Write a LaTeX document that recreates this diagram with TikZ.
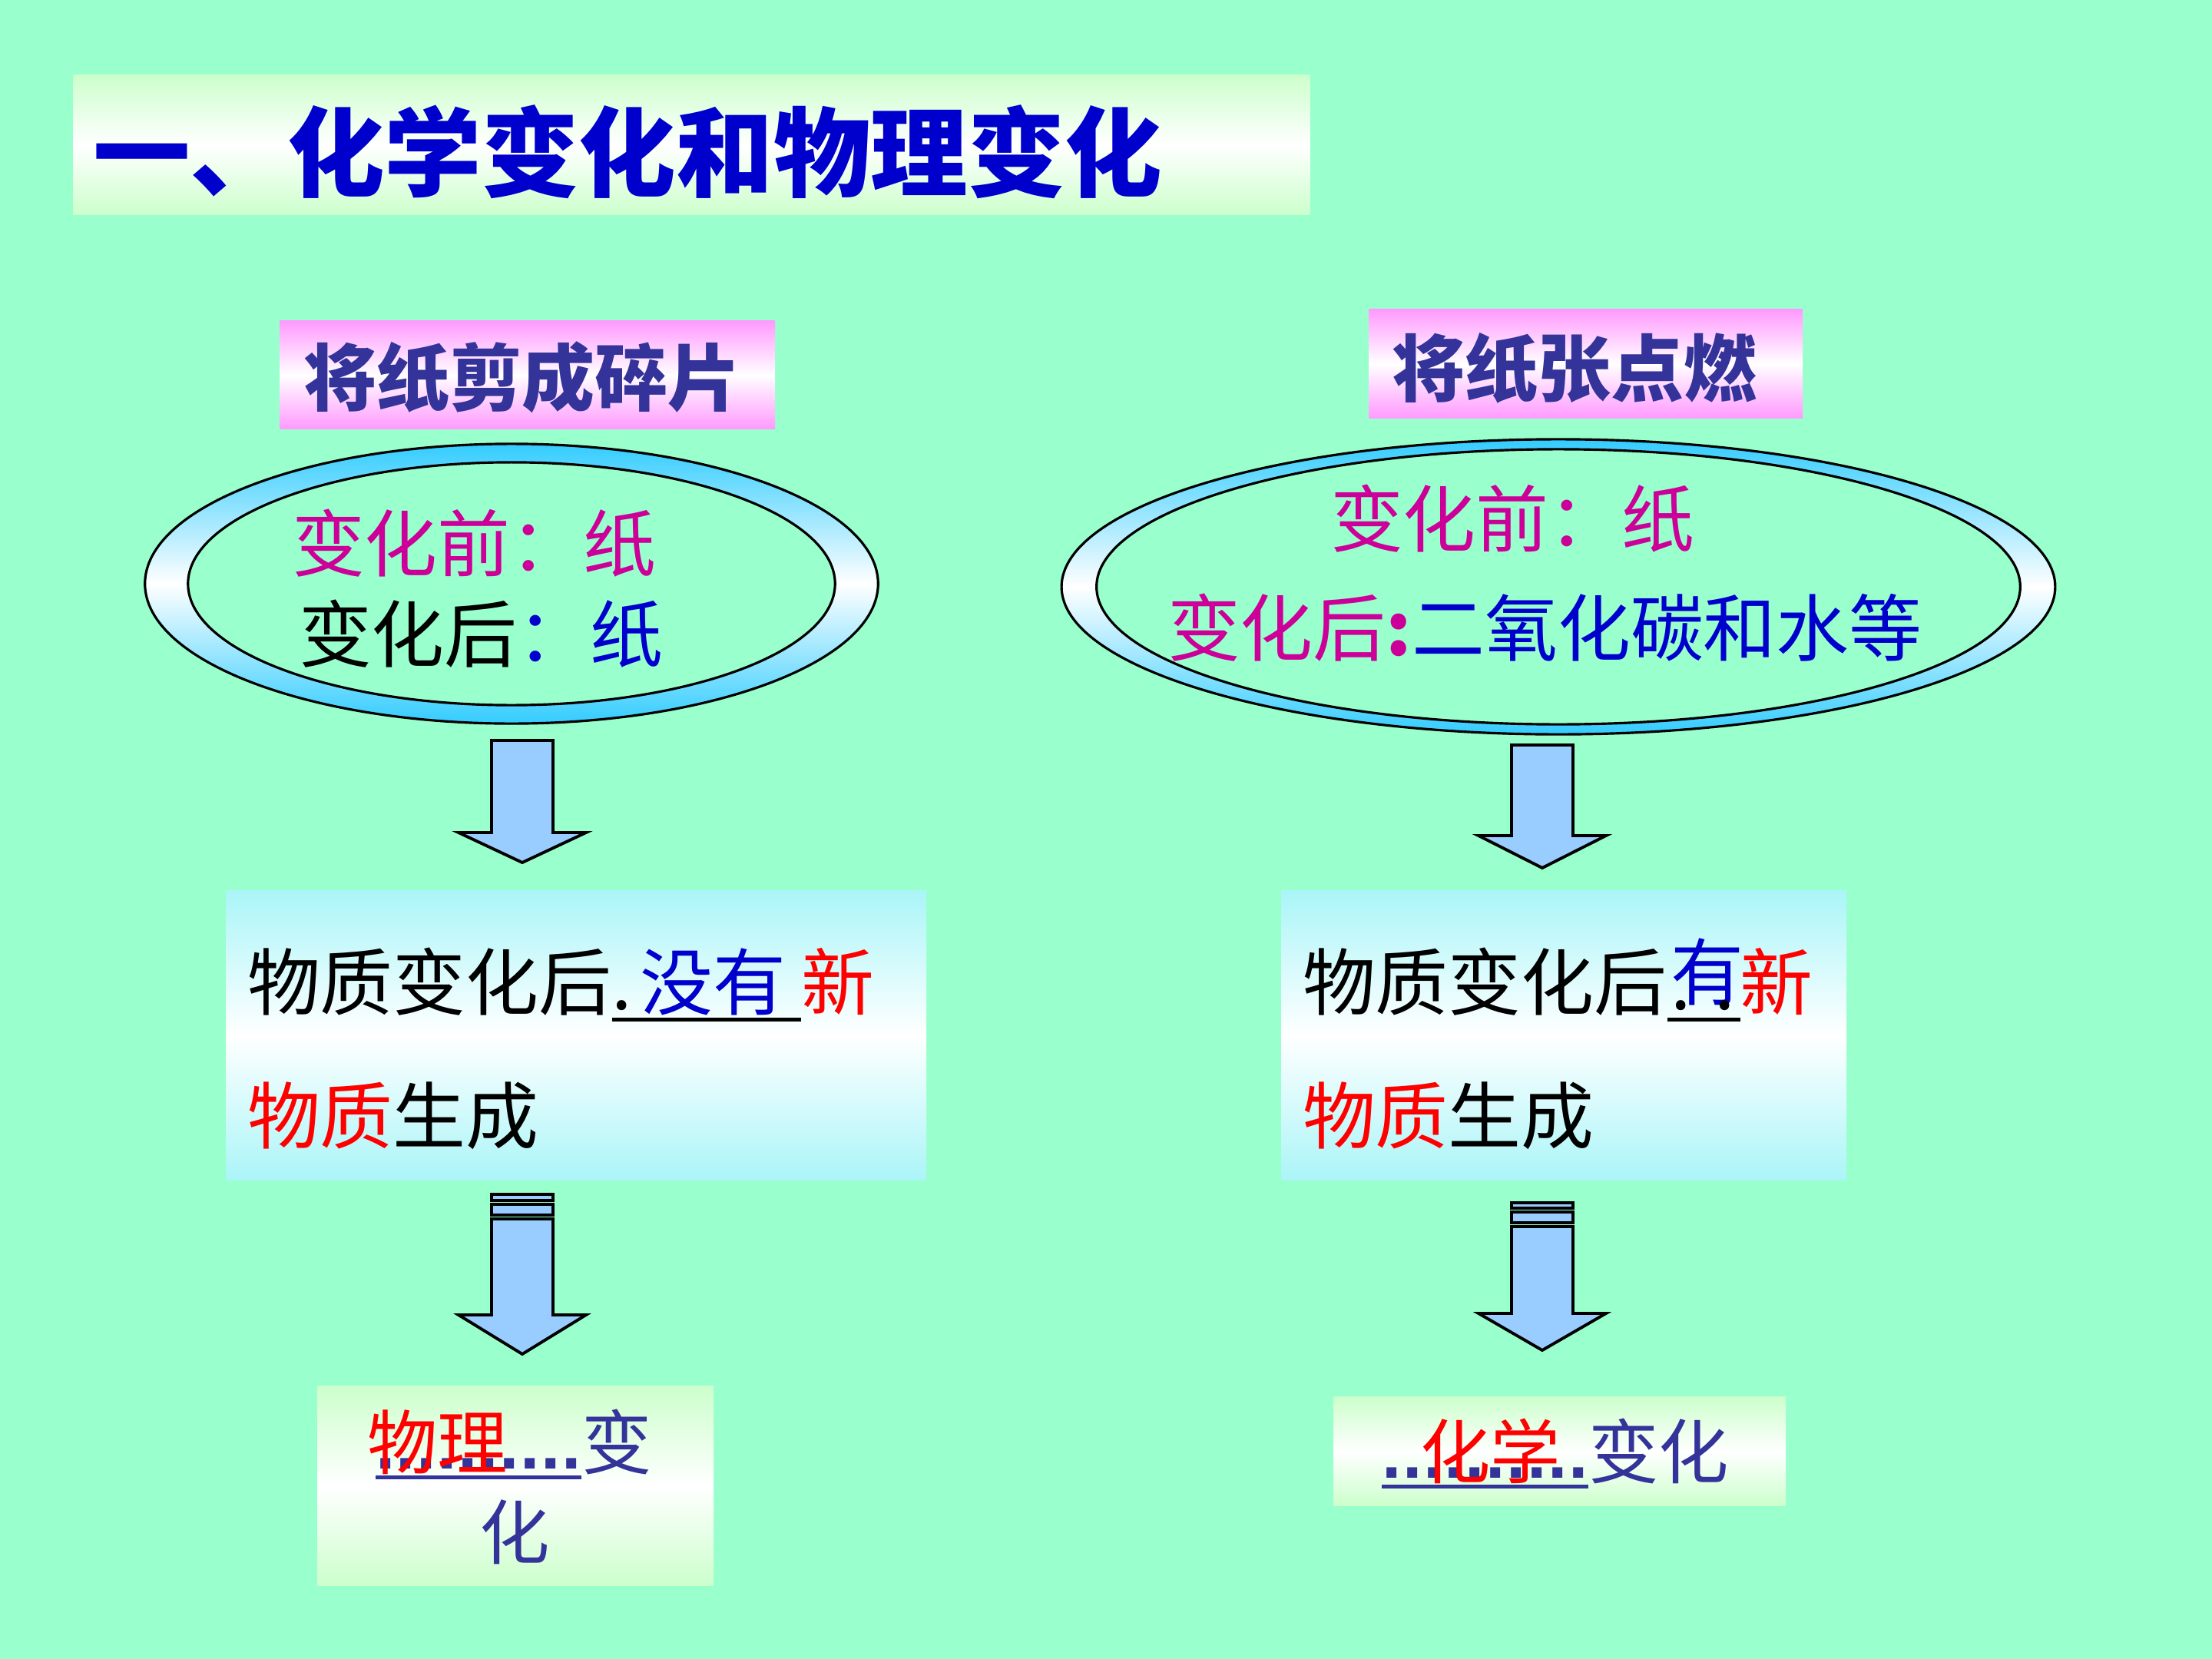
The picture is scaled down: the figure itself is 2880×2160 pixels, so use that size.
\documentclass[tikz,border=0pt]{standalone}
\usepackage{fontspec}
\usetikzlibrary{shapes.geometric}
\newfontfamily\cjk{Noto Sans CJK SC}
\newfontfamily\dotf{Liberation Sans}
\definecolor{bg}{RGB}{153,255,204}
\definecolor{palegreen}{RGB}{204,255,204}
\definecolor{pinkc}{RGB}{255,153,255}
\definecolor{cyanc}{RGB}{170,245,248}
\definecolor{ringblue}{RGB}{51,204,255}
\definecolor{arrowblue}{RGB}{153,204,255}
\definecolor{tblue}{RGB}{0,0,204}
\definecolor{lblue}{RGB}{51,51,153}
\definecolor{magc}{RGB}{204,0,153}
\definecolor{redc}{RGB}{255,0,0}
\newsavebox\ulbox
\newcommand\ulx[4]{\leavevmode\sbox\ulbox{#4}\rlap{\textcolor{#1}{\rule[-#2]{\wd\ulbox}{#3}}}\usebox\ulbox}
\newcommand\tendots{.\hfill.\hfill.\hfill.\hfill.\hfill.\hfill.\hfill.\hfill.\hfill.}
\newcommand\barrow[4]{%
  \draw[arrowsty] (#1-40,#2) -- (#1+40,#2) -- (#1+40,#3) -- (#1+83,#3) -- (#1,#4) -- (#1-83,#3) -- (#1-40,#3) -- cycle;}
\begin{document}
\begin{tikzpicture}[x=0.01cm, y=-0.01cm,
  arrowsty/.style={draw=black, line width=1.1pt, fill=arrowblue, line join=miter},
  panel/.style={draw=none, inner sep=0pt, anchor=north west},
  tx/.style={inner sep=0pt, outer sep=0pt, anchor=west, font=\cjk\fontsize{27pt}{30pt}\selectfont, text height=21.6pt, text depth=2.7pt},
  txb/.style={tx, font=\cjk\bfseries\fontsize{27pt}{30pt}\selectfont},
  tt/.style={inner sep=0pt, outer sep=0pt, anchor=west, font=\cjk\bfseries\fontsize{36pt}{40pt}\selectfont, text height=28.8pt, text depth=3.6pt},
  tb/.style={inner sep=0pt, outer sep=0pt, anchor=west, font=\cjk\fontsize{26pt}{30pt}\selectfont, text height=20.8pt, text depth=2.6pt},
  ring/.style={ellipse, draw=black, line width=0.9pt, inner sep=0pt, top color=ringblue, bottom color=ringblue, middle color=white},
  hole/.style={ellipse, draw=black, line width=0.9pt, inner sep=0pt, fill=bg}]
\useasboundingbox (0,0) rectangle (2880,2160);
\fill[bg] (0,0) rectangle (2880,2160);

% title
\node[panel, top color=palegreen, bottom color=palegreen, middle color=white, minimum width=16.09cm, minimum height=1.82cm] (tbox) at (95,97) {};
\node[tt, text=tblue] (title) at (121,202) {一、化学变化和物理变化};

% labels
\node[panel, top color=pinkc, bottom color=pinkc, middle color=white, minimum width=6.44cm, minimum height=1.41cm] (lbox1) at (364,417) {};
\node[txb, anchor=center, text=lblue] (lab1) at (680,494) {将纸剪成碎片};
\node[panel, top color=pinkc, bottom color=pinkc, middle color=white, minimum width=5.64cm, minimum height=1.42cm] (lbox2) at (1782,402) {};
\node[txb, anchor=center, text=lblue] (lab2) at (2050,482) {将纸张点燃};

% ellipses
\node[ring, minimum width=9.54cm, minimum height=3.64cm] (ring1) at (666,760) {};
\node[hole, minimum width=8.42cm, minimum height=3.16cm] (hole1) at (666,760) {};
\node[ring, minimum width=12.93cm, minimum height=3.84cm] (ring2) at (2029,764) {};
\node[hole, minimum width=12.02cm, minimum height=3.58cm] (hole2) at (2029,764) {};

\node[tx, text=magc] (e1a) at (380,710) {变化前：纸};
\node[tx] (e1b) at (389,828) {变化后\textcolor{tblue}{：纸}};
\node[tx, text=magc] (e2a) at (1732,678) {变化前：纸};
\node[tx, text=magc] (e2b) at (1520,820) {变化后\textbf{:}\textcolor{tblue}{二氧化碳和水等}};

% arrows
\barrow{680}{964}{1084}{1123}
\barrow{2008}{970}{1088}{1130}
\draw[arrowsty] (640,1555) rectangle (720,1563);
\draw[arrowsty] (640,1568) rectangle (720,1582);
\barrow{680}{1587}{1712}{1763}
\draw[arrowsty] (1968,1566) rectangle (2048,1573);
\draw[arrowsty] (1968,1578) rectangle (2048,1592);
\barrow{2008}{1597}{1710}{1758}

% middle boxes
\node[panel, top color=cyanc, bottom color=cyanc, middle color=white, minimum width=9.11cm, minimum height=3.77cm] (mbox1) at (294,1159) {};
\node[tx] (m1a) at (322,1281) {物质变化后\ulx{black}{0.16cm}{0.05cm}{.\hspace{0.1cm}\textcolor{tblue}{没有}\hspace{0.2cm}}\textcolor{redc}{新}};
\node[tx] (m1b) at (322,1455) {\textcolor{redc}{物质}生成};
\node[panel, top color=cyanc, bottom color=cyanc, middle color=white, minimum width=7.35cm, minimum height=3.77cm] (mbox2) at (1668,1159) {};
\node[tx] (m2a) at (1696,1281) {物质变化后\ulx{black}{0.16cm}{0.05cm}{\makebox[0.95cm][l]{\hspace{0.05cm}\rlap{\raisebox{0.13cm}{\textcolor{tblue}{有}}}.\hspace{0.3cm}.}}\textcolor{redc}{新}};
\node[tx] (m2b) at (1696,1455) {\textcolor{redc}{物质}生成};

% bottom boxes
\node[panel, top color=palegreen, bottom color=palegreen, middle color=white, minimum width=5.15cm, minimum height=2.60cm] (bbox1) at (413,1804) {};
\node[tb, text=lblue] (b1a) at (489,1880) {\ulx{lblue}{0.14cm}{0.05cm}{\dotf\bfseries\makebox[2.68cm][s]{\tendots}}\llap{\textcolor{redc}{物理}\hspace{0.96cm}}变};
\node[tb, anchor=center, text=lblue] (b1b) at (670,1997) {化};
\node[panel, top color=palegreen, bottom color=palegreen, middle color=white, minimum width=5.88cm, minimum height=1.42cm] (bbox2) at (1736,1818) {};
\node[tb, text=lblue] (b2a) at (1799,1892) {\ulx{lblue}{0.14cm}{0.05cm}{\dotf\bfseries\makebox[2.69cm][s]{\tendots}}\llap{\textcolor{redc}{化学}\hspace{0.36cm}}变化};
\end{tikzpicture}
\end{document}
